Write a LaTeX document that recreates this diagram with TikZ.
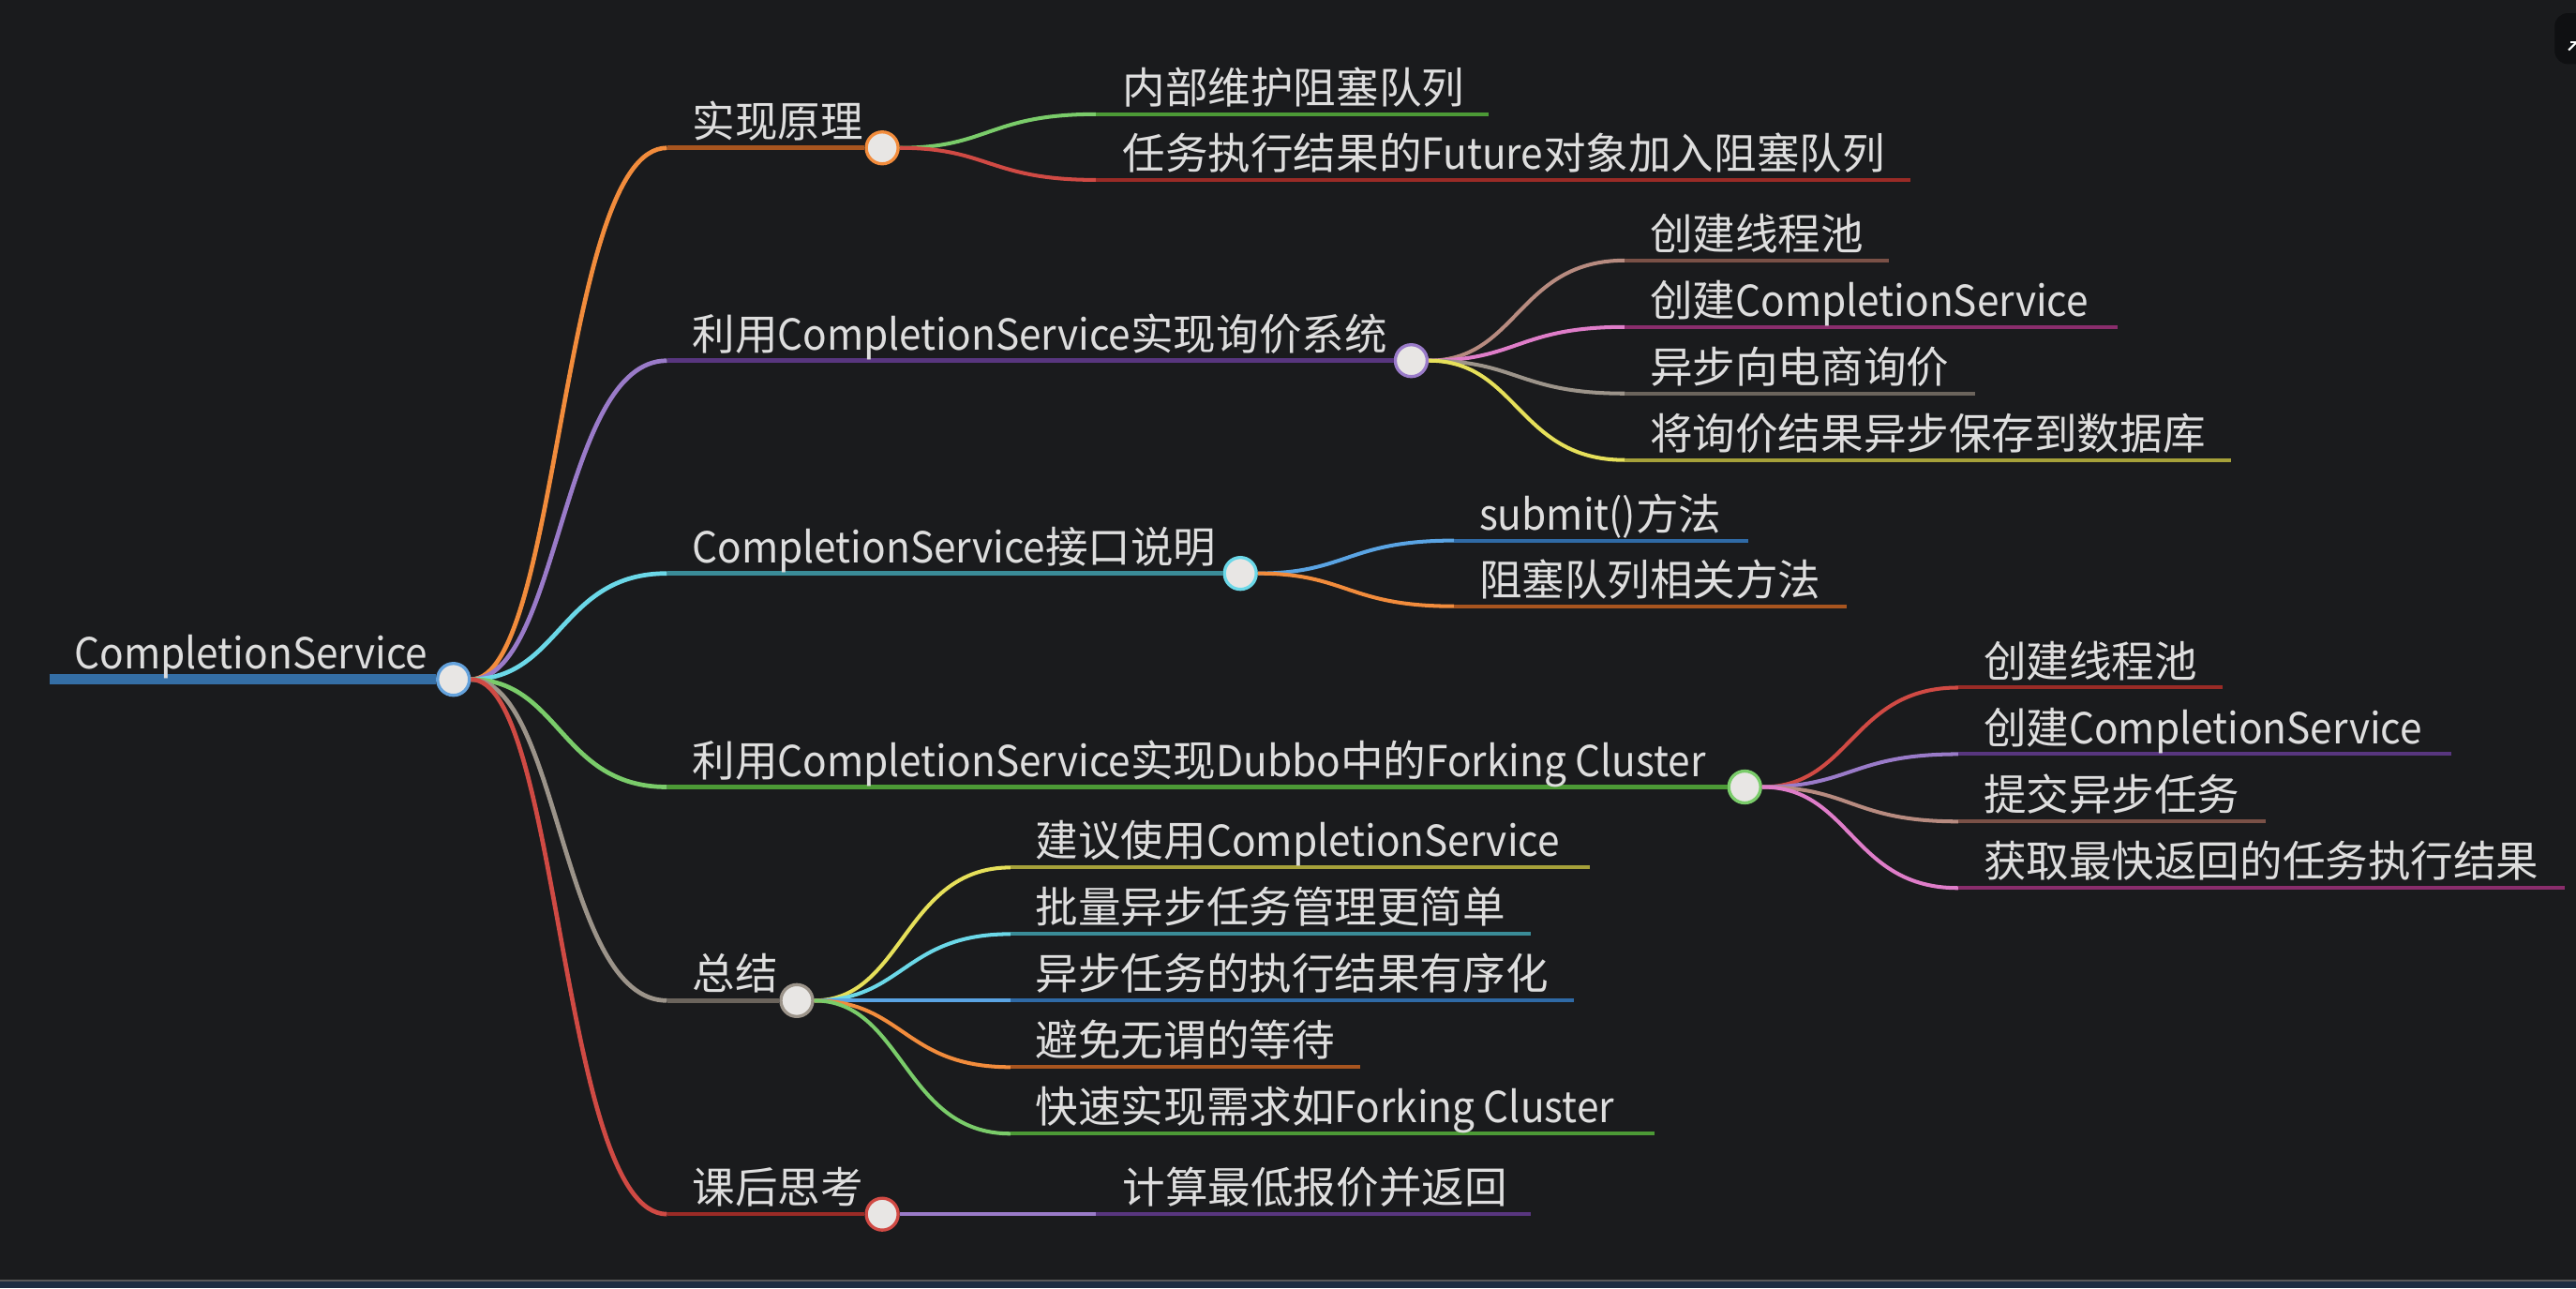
\documentclass[tikz,border=0pt]{standalone}
\usepackage{fontspec}
\setmainfont{Noto Sans CJK SC}
\newfontfamily\latn{Noto Sans CJK SC}[FakeStretch=0.93]
\usepackage{xcolor}
\usepackage{tikz}
\usetikzlibrary{positioning}

\definecolor{bgdark}{HTML}{1A1B1D}
\definecolor{txtgray}{HTML}{DEDEDE}
\definecolor{dotfill}{HTML}{E8E6E4}
\definecolor{iconbg}{HTML}{0F1012}
\definecolor{rootblue}{HTML}{346EA5}
\definecolor{rootring}{HTML}{64A2DC}
\definecolor{stripblue}{HTML}{1C2D42}
% bright (curve) and dark (underline) shades
\definecolor{orangeL}{HTML}{F28C3C}\definecolor{orangeD}{HTML}{A8551F}
\definecolor{purpleL}{HTML}{9A7BC9}\definecolor{purpleD}{HTML}{58367F}
\definecolor{cyanL}{HTML}{6BD8E8}\definecolor{cyanD}{HTML}{3A8C98}
\definecolor{greenL}{HTML}{7ACC6A}\definecolor{greenD}{HTML}{4C9A36}
\definecolor{grayL}{HTML}{9C948A}\definecolor{grayD}{HTML}{6B645C}
\definecolor{redL}{HTML}{D04A44}\definecolor{redD}{HTML}{9A2B26}
\definecolor{blueL}{HTML}{5AA4E4}\definecolor{blueD}{HTML}{2F6AA6}
\definecolor{pinkL}{HTML}{DF7DC9}\definecolor{pinkD}{HTML}{8A2D6C}
\definecolor{brownL}{HTML}{B78B80}\definecolor{brownD}{HTML}{7A5147}
\definecolor{yellowL}{HTML}{E6E05A}\definecolor{yellowD}{HTML}{A6A13A}

\begin{document}
\begin{tikzpicture}[
        x=0.5pt, y=-0.5pt,
        every node/.style={font=\fontsize{13pt}{15pt}\selectfont, text=txtgray},
        txt/.style={anchor=base west, inner sep=0pt},
        dot/.style={circle, draw=#1, fill=dotfill, line width=0.95pt, minimum size=9.7pt, inner sep=0pt},
        trunk/.style={line width=3.2pt, draw=rootblue},
        link/.style={line width=1.35pt, draw=#1},
        uline/.style={line width=1.3pt, draw=#1},
        twig/.style={line width=1.15pt, draw=#1},
        leafline/.style={line width=1.15pt, draw=#1}
    ]

    % Canvas
    \fill[bgdark] (0,0) rectangle (1568,784);
    \useasboundingbox (0,0) rectangle (1568,784);
    \fill[stripblue] (0,779.5) rectangle (1568,784);
    \draw[gray!70!black, line width=0.5pt] (0,779.5) -- (1568,779.5);
    \fill[iconbg, rounded corners=4pt] (1555,8) rectangle (1585,39);
    \draw[white, line width=0.6pt] (1563.5,30.5) -- (1568,26);
    \draw[white, line width=0.6pt] (1564.5,25.5) -- (1568,25.5);

    % Root
    \coordinate (root-s) at (30,413.5);
    \node[dot=rootring] (root) at (276,413.5) {};
    \draw[trunk] (root-s) -- (root);
    \node[txt] (root-t) at (45,407) {\latn CompletionService};

    % Main branches
    \coordinate (yl-s) at (406,90);
    \coordinate (xj-s) at (406,219.5);
    \coordinate (jk-s) at (406,349);
    \coordinate (db-s) at (406,479);
    \coordinate (zj-s) at (406,609);
    \coordinate (kh-s) at (406,739);
    \node[dot=orangeL] (yl) at (537,90) {};
    \node[dot=purpleL] (xj) at (859,219.5) {};
    \node[dot=cyanL] (jk) at (755,349) {};
    \node[dot=greenL] (db) at (1062,479) {};
    \node[dot=grayL] (zj) at (485,609) {};
    \node[dot=redL] (kh) at (537,739) {};

    \draw[link=orangeL] (root) .. controls +(65,0) and +(-65,0) .. (yl-s);
    \draw[link=purpleL] (root) .. controls +(65,0) and +(-65,0) .. (xj-s);
    \draw[link=cyanL] (root) .. controls +(65,0) and +(-65,0) .. (jk-s);
    \draw[link=greenL] (root) .. controls +(65,0) and +(-65,0) .. (db-s);
    \draw[link=grayL] (root) .. controls +(65,0) and +(-65,0) .. (zj-s);
    \draw[link=redL] (root) .. controls +(65,0) and +(-65,0) .. (kh-s);

    \draw[uline=orangeD] (yl-s) -- (yl);
    \draw[uline=purpleD] (xj-s) -- (xj);
    \draw[uline=cyanD] (jk-s) -- (jk);
    \draw[uline=greenD] (db-s) -- (db);
    \draw[uline=grayD] (zj-s) -- (zj);
    \draw[uline=redD] (kh-s) -- (kh);

    \node[txt] (yl-t) at (421,83.5) {实现原理};
    \node[txt] (xj-t) at (421,213) {利用{\latn CompletionService}实现询价系统};
    \node[txt] (jk-t) at (421,342.5) {{\latn CompletionService}接口说明};
    \node[txt] (db-t) at (421,472.5) {利用{\latn CompletionService}实现{\latn Dubbo}中的{\latn Forking Cluster}};
    \node[txt] (zj-t) at (421,602.5) {总结};
    \node[txt] (kh-t) at (421,732.5) {课后思考};

    % Leaves of 实现原理
    \coordinate (yl1-s) at (667,69.5); \coordinate (yl1-e) at (906,69.5);
    \coordinate (yl2-s) at (667,109.5); \coordinate (yl2-e) at (1163,109.5);
    \draw[twig=greenL] (yl) .. controls +(65,0) and +(-65,0) .. (yl1-s);
    \draw[twig=redL] (yl) .. controls +(65,0) and +(-65,0) .. (yl2-s);
    \draw[leafline=greenD] (yl1-s) -- (yl1-e);
    \draw[leafline=redD] (yl2-s) -- (yl2-e);
    \node[txt] (yl1) at (683,63) {内部维护阻塞队列};
    \node[txt] (yl2) at (683,103) {任务执行结果的{\latn Future}对象加入阻塞队列};

    % Leaves of 询价系统
    \coordinate (xj1-s) at (989,158.5); \coordinate (xj1-e) at (1150,158.5);
    \coordinate (xj2-s) at (989,199); \coordinate (xj2-e) at (1289,199);
    \coordinate (xj3-s) at (989,239.5); \coordinate (xj3-e) at (1202,239.5);
    \coordinate (xj4-s) at (989,280); \coordinate (xj4-e) at (1358,280);
    \draw[twig=brownL] (xj) .. controls +(65,0) and +(-65,0) .. (xj1-s);
    \draw[twig=pinkL] (xj) .. controls +(65,0) and +(-65,0) .. (xj2-s);
    \draw[twig=grayL] (xj) .. controls +(65,0) and +(-65,0) .. (xj3-s);
    \draw[twig=yellowL] (xj) .. controls +(65,0) and +(-65,0) .. (xj4-s);
    \draw[leafline=brownD] (xj1-s) -- (xj1-e);
    \draw[leafline=pinkD] (xj2-s) -- (xj2-e);
    \draw[leafline=grayD] (xj3-s) -- (xj3-e);
    \draw[leafline=yellowD] (xj4-s) -- (xj4-e);
    \node[txt] (xj1) at (1004,152) {创建线程池};
    \node[txt] (xj2) at (1004,192.5) {创建{\latn CompletionService}};
    \node[txt] (xj3) at (1004,233) {异步向电商询价};
    \node[txt] (xj4) at (1004,273.5) {将询价结果异步保存到数据库};

    % Leaves of 接口说明
    \coordinate (jk1-s) at (885,329); \coordinate (jk1-e) at (1064,329);
    \coordinate (jk2-s) at (885,369); \coordinate (jk2-e) at (1124,369);
    \draw[twig=blueL] (jk) .. controls +(65,0) and +(-65,0) .. (jk1-s);
    \draw[twig=orangeL] (jk) .. controls +(65,0) and +(-65,0) .. (jk2-s);
    \draw[leafline=blueD] (jk1-s) -- (jk1-e);
    \draw[leafline=orangeD] (jk2-s) -- (jk2-e);
    \node[txt] (jk1) at (900,322.5) {{\latn submit()}方法};
    \node[txt] (jk2) at (900,362.5) {阻塞队列相关方法};

    % Leaves of Forking Cluster
    \coordinate (db1-s) at (1192,418.5); \coordinate (db1-e) at (1353,418.5);
    \coordinate (db2-s) at (1192,459); \coordinate (db2-e) at (1492,459);
    \coordinate (db3-s) at (1192,500); \coordinate (db3-e) at (1379,500);
    \coordinate (db4-s) at (1192,540.5); \coordinate (db4-e) at (1561,540.5);
    \draw[twig=redL] (db) .. controls +(65,0) and +(-65,0) .. (db1-s);
    \draw[twig=purpleL] (db) .. controls +(65,0) and +(-65,0) .. (db2-s);
    \draw[twig=brownL] (db) .. controls +(65,0) and +(-65,0) .. (db3-s);
    \draw[twig=pinkL] (db) .. controls +(65,0) and +(-65,0) .. (db4-s);
    \draw[leafline=redD] (db1-s) -- (db1-e);
    \draw[leafline=purpleD] (db2-s) -- (db2-e);
    \draw[leafline=brownD] (db3-s) -- (db3-e);
    \draw[leafline=pinkD] (db4-s) -- (db4-e);
    \node[txt] (db1) at (1207,412) {创建线程池};
    \node[txt] (db2) at (1207,452.5) {创建{\latn CompletionService}};
    \node[txt] (db3) at (1207,493.5) {提交异步任务};
    \node[txt] (db4) at (1207,534) {获取最快返回的任务执行结果};

    % Leaves of 总结
    \coordinate (zj1-s) at (615,528); \coordinate (zj1-e) at (968,528);
    \coordinate (zj2-s) at (615,568.5); \coordinate (zj2-e) at (932,568.5);
    \coordinate (zj3-s) at (615,609); \coordinate (zj3-e) at (958,609);
    \coordinate (zj4-s) at (615,649.5); \coordinate (zj4-e) at (828,649.5);
    \coordinate (zj5-s) at (615,690); \coordinate (zj5-e) at (1007,690);
    \draw[twig=yellowL] (zj) .. controls +(65,0) and +(-65,0) .. (zj1-s);
    \draw[twig=cyanL] (zj) .. controls +(65,0) and +(-65,0) .. (zj2-s);
    \draw[twig=blueL] (zj) .. controls +(65,0) and +(-65,0) .. (zj3-s);
    \draw[twig=orangeL] (zj) .. controls +(65,0) and +(-65,0) .. (zj4-s);
    \draw[twig=greenL] (zj) .. controls +(65,0) and +(-65,0) .. (zj5-s);
    \draw[leafline=yellowD] (zj1-s) -- (zj1-e);
    \draw[leafline=cyanD] (zj2-s) -- (zj2-e);
    \draw[leafline=blueD] (zj3-s) -- (zj3-e);
    \draw[leafline=orangeD] (zj4-s) -- (zj4-e);
    \draw[leafline=greenD] (zj5-s) -- (zj5-e);
    \node[txt] (zj1) at (630,521.5) {建议使用{\latn CompletionService}};
    \node[txt] (zj2) at (630,562) {批量异步任务管理更简单};
    \node[txt] (zj3) at (630,602.5) {异步任务的执行结果有序化};
    \node[txt] (zj4) at (630,643) {避免无谓的等待};
    \node[txt] (zj5) at (630,683.5) {快速实现需求如{\latn Forking Cluster}};

    % Leaf of 课后思考
    \coordinate (kh1-s) at (667,739); \coordinate (kh1-e) at (932,739);
    \draw[twig=purpleL] (kh) -- (kh1-s);
    \draw[leafline=purpleD] (kh1-s) -- (kh1-e);
    \node[txt] (kh1) at (683,732.5) {计算最低报价并返回};

\end{tikzpicture}
\end{document}
